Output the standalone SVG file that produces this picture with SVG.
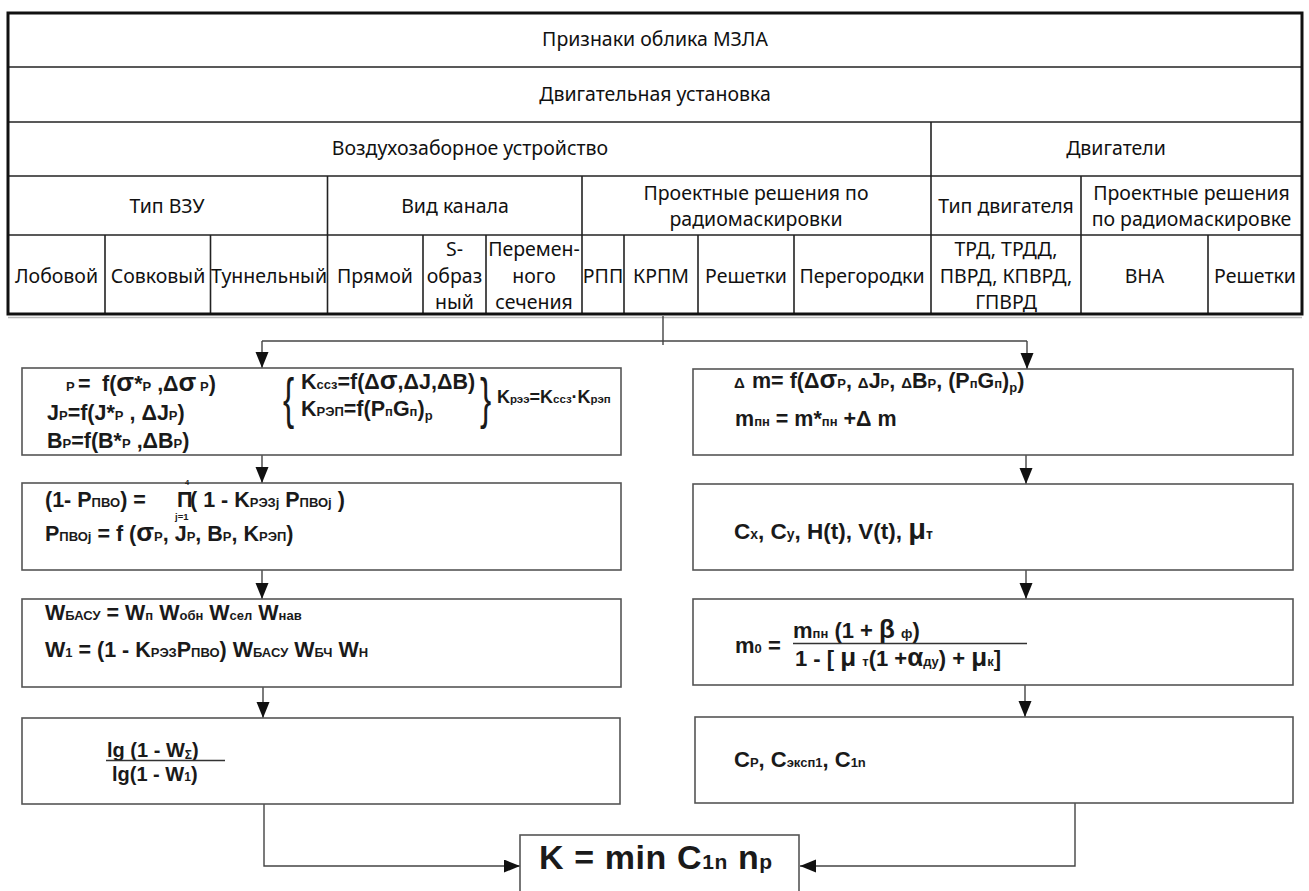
<svg xmlns="http://www.w3.org/2000/svg" width="1309" height="891" viewBox="0 0 1309 891">
<style>
.t{font-family:"Noto Sans","Open Sans","DejaVu Sans",sans-serif;font-size:19.5px;fill:#111;text-anchor:middle}
.ol{fill:none;stroke:#111;stroke-width:3}
.il{stroke:#222;stroke-width:1.6;fill:none}
.box{fill:#fff;stroke:#555;stroke-width:1.6}
.f{font-family:"Liberation Sans",Arial,sans-serif;font-weight:bold;font-size:21.5px;fill:#1a1a1a}
.s{font-size:13px}
.g{font-size:26px}
.d{font-size:15px}
.c{stroke:#444;stroke-width:1.4;fill:none}
.br{font-family:"Liberation Sans",Arial,sans-serif;font-size:56px;fill:#1a1a1a}
</style>
<defs>
<marker id="ah" markerUnits="userSpaceOnUse" markerWidth="17" markerHeight="14" refX="16" refY="6.5" orient="auto">
<path d="M0,0 L16,6.5 L0,13 Z" fill="#111"/>
</marker>
</defs>
<rect width="1309" height="891" fill="#fff"/>

<g id="table">
<line x1="8" y1="317.5" x2="1302" y2="317.5" stroke="#bbb" stroke-width="1.5"/>
<g class="il">
<line x1="8" y1="67" x2="1302" y2="67"/>
<line x1="8" y1="122" x2="1302" y2="122"/>
<line x1="8" y1="176" x2="1302" y2="176"/>
<line x1="8" y1="235" x2="1302" y2="235"/>
<line x1="931" y1="122" x2="931" y2="314"/>
<line x1="327.5" y1="176" x2="327.5" y2="314"/>
<line x1="582" y1="176" x2="582" y2="314"/>
<line x1="1081" y1="176" x2="1081" y2="314"/>
<line x1="105" y1="235" x2="105" y2="314"/>
<line x1="210.5" y1="235" x2="210.5" y2="314"/>
<line x1="423" y1="235" x2="423" y2="314"/>
<line x1="486" y1="235" x2="486" y2="314"/>
<line x1="624" y1="235" x2="624" y2="314"/>
<line x1="698" y1="235" x2="698" y2="314"/>
<line x1="794" y1="235" x2="794" y2="314"/>
<line x1="1208" y1="235" x2="1208" y2="314"/>
</g>
<rect class="ol" x="8" y="13" width="1294" height="301"/>
<text class="t" x="655" y="46">Признаки облика МЗЛА</text>
<text class="t" x="655" y="101">Двигательная установка</text>
<text class="t" x="470" y="155">Воздухозаборное устройство</text>
<text class="t" x="1116" y="155">Двигатели</text>
<text class="t" x="167" y="213">Тип ВЗУ</text>
<text class="t" x="455" y="213">Вид канала</text>
<text class="t" x="756" y="200">Проектные решения по</text>
<text class="t" x="756" y="226">радиомаскировки</text>
<text class="t" x="1006" y="213">Тип двигателя</text>
<text class="t" x="1191.5" y="200">Проектные решения</text>
<text class="t" x="1191.5" y="226">по радиомаскировке</text>
<text class="t" x="56.5" y="283">Лобовой</text>
<text class="t" x="158" y="283">Совковый</text>
<text class="t" x="269" y="283">Туннельный</text>
<text class="t" x="375" y="283">Прямой</text>
<text class="t" x="454.5" y="256">S-</text>
<text class="t" x="454.5" y="283">образ</text>
<text class="t" x="454.5" y="309">ный</text>
<text class="t" x="534" y="256">Перемен-</text>
<text class="t" x="534" y="283">ного</text>
<text class="t" x="534" y="309">сечения</text>
<text class="t" x="603" y="283">РПП</text>
<text class="t" x="661" y="283">КРПМ</text>
<text class="t" x="746" y="283">Решетки</text>
<text class="t" x="862" y="283">Перегородки</text>
<text class="t" x="1006" y="256">ТРД, ТРДД,</text>
<text class="t" x="1006" y="283">ПВРД, КПВРД,</text>
<text class="t" x="1006" y="309">ГПВРД</text>
<text class="t" x="1144.5" y="283">ВНА</text>
<text class="t" x="1255" y="283">Решетки</text>
</g>

<g id="connectors">
<line class="c" x1="663" y1="316" x2="663" y2="345"/>
<line class="c" x1="262" y1="341" x2="1027" y2="341"/>
<line class="c" x1="262" y1="341" x2="262" y2="368" marker-end="url(#ah)"/>
<line class="c" x1="1027" y1="341" x2="1027" y2="369" marker-end="url(#ah)"/>
<line class="c" x1="262" y1="455" x2="262" y2="483" marker-end="url(#ah)"/>
<line class="c" x1="262" y1="570" x2="262" y2="599" marker-end="url(#ah)"/>
<line class="c" x1="263" y1="687" x2="263" y2="718" marker-end="url(#ah)"/>
<line class="c" x1="1026" y1="455" x2="1026" y2="484" marker-end="url(#ah)"/>
<line class="c" x1="1026" y1="570" x2="1026" y2="599" marker-end="url(#ah)"/>
<line class="c" x1="1025" y1="685" x2="1025" y2="717" marker-end="url(#ah)"/>
<polyline class="c" points="264,804 264,866 520,866" marker-end="url(#ah)"/>
<polyline class="c" points="1075,803 1075,866 800,866" marker-end="url(#ah)"/>
</g>

<g id="box-l1">
<rect class="box" x="22" y="368" width="599" height="87"/>
<text class="f" y="391"><tspan x="66" class="s">P</tspan><tspan x="78">=</tspan><tspan x="102">f(</tspan><tspan class="g">σ</tspan><tspan>*</tspan><tspan class="s">P</tspan><tspan> ,Δ</tspan><tspan class="g">σ</tspan><tspan class="s"> P</tspan><tspan>)</tspan></text>
<text class="f" x="47" y="420">J<tspan class="s">P</tspan>=f(J*<tspan class="s">P</tspan> , ΔJ<tspan class="s">P</tspan>)</text>
<text class="f" x="47" y="448">B<tspan class="s">P</tspan>=f(B*<tspan class="s">P</tspan> ,ΔB<tspan class="s">P</tspan>)</text>
<text class="br" transform="translate(283,417) scale(0.6,1)">{</text>
<text class="f" x="301" y="389">K<tspan class="s">ссз</tspan>=f(Δ<tspan class="g">σ</tspan>,ΔJ,ΔB)</text>
<text class="f" x="301" y="416">K<tspan class="s">РЭП</tspan>=f(P<tspan class="s">п</tspan>G<tspan class="s">п</tspan>)<tspan class="s" dy="4">р</tspan></text>
<text class="br" transform="translate(480,417) scale(0.6,1)">}</text>
<text class="f" x="497" y="403" style="font-size:18px">K<tspan style="font-size:11.5px">рээ</tspan>=K<tspan style="font-size:11.5px">ссз</tspan>·K<tspan style="font-size:11.5px">рэп</tspan></text>
</g>

<g id="box-l2">
<rect class="box" x="22" y="483" width="599" height="87"/>
<text class="f" x="45" y="507">(1- P<tspan class="s">ПВО</tspan>) = <tspan x="177">Π</tspan><tspan x="190">( 1 - K</tspan><tspan class="s">РЭЗj</tspan> P<tspan class="s">ПВОj</tspan> )</text>
<text class="f" x="185" y="485" style="font-size:7.5px">4</text>
<text class="f" x="175" y="520" style="font-size:9.5px">j=1</text>
<text class="f" x="45" y="541">P<tspan class="s">ПВОj</tspan> = f (<tspan class="g">σ</tspan><tspan class="s">P</tspan>, J<tspan class="s">P</tspan>, B<tspan class="s">P</tspan>, K<tspan class="s">РЭП</tspan>)</text>
</g>

<g id="box-l3">
<rect class="box" x="22" y="599" width="599" height="88"/>
<text class="f" x="45" y="620">W<tspan class="s">БАСУ</tspan> = W<tspan class="s">п</tspan> W<tspan class="s">обн</tspan> W<tspan class="s">сел</tspan> W<tspan class="s">нав</tspan></text>
<text class="f" x="45" y="657">W<tspan class="s">1</tspan> = (1 - K<tspan class="s">РЭЗ</tspan>P<tspan class="s">ПВО</tspan>) W<tspan class="s">БАСУ</tspan> W<tspan class="s">БЧ</tspan> W<tspan class="s">Н</tspan></text>
</g>

<g id="box-l4">
<rect class="box" x="22" y="718" width="598" height="86"/>
<text class="f" x="107" y="757" style="font-size:20px">lg (1 - W<tspan style="font-size:12px" dy="2">Σ</tspan><tspan dy="-2">)</tspan></text>
<line x1="106" y1="760.5" x2="225" y2="760.5" stroke="#333" stroke-width="1.5"/>
<text class="f" x="112" y="781" style="font-size:20px">lg(1 - W<tspan style="font-size:12px">1</tspan>)</text>
</g>

<g id="box-r1">
<rect class="box" x="693" y="369" width="600" height="86"/>
<text class="f" y="388"><tspan x="734" class="d">Δ</tspan><tspan x="752">m= f(Δ</tspan><tspan class="g">σ</tspan><tspan class="s">P</tspan>, <tspan class="d">Δ</tspan>J<tspan class="s">P</tspan>, <tspan class="d">Δ</tspan>B<tspan class="s">P</tspan>, (P<tspan class="s">п</tspan>G<tspan class="s">п</tspan>)<tspan class="s" dy="4">р</tspan><tspan dy="-4">)</tspan></text>
<text class="f" x="735" y="426">m<tspan class="s">пн</tspan> = m*<tspan class="s">пн</tspan> +Δ m</text>
</g>

<g id="box-r2">
<rect class="box" x="693" y="484" width="600" height="86"/>
<text class="f" x="734" y="539" style="font-size:22.5px">C<tspan style="font-size:14px">x</tspan>, C<tspan style="font-size:14px">y</tspan>, H(t), V(t), <tspan style="font-size:29px">μ</tspan><tspan style="font-size:14px">т</tspan></text>
</g>

<g id="box-r3">
<rect class="box" x="693" y="599" width="600" height="86"/>
<text class="f" x="735" y="653" style="font-size:22px">m<tspan class="s">0</tspan> =</text>
<text class="f" x="793" y="638" style="font-size:22px">m<tspan class="s">пн</tspan> (1 +  <tspan class="g">β</tspan> <tspan class="s">ф</tspan>)</text>
<line x1="793" y1="643.5" x2="1027" y2="643.5" stroke="#333" stroke-width="1.5"/>
<text class="f" x="795" y="666" style="font-size:22px">1 - [ <tspan class="g">μ</tspan> <tspan class="s">т</tspan>(1 +<tspan class="g">α</tspan><tspan class="s">ду</tspan>) + <tspan class="g">μ</tspan><tspan class="s">к</tspan>]</text>
</g>

<g id="box-r4">
<rect class="box" x="695" y="717" width="598" height="86"/>
<text class="f" x="734" y="767" style="font-size:22px">C<tspan class="s">P</tspan>, C<tspan class="s">эксп1</tspan>, C<tspan class="s">1n</tspan></text>
</g>

<g id="box-k">
<rect class="box" x="520" y="835" width="279" height="70"/>
<text class="f" x="539" y="869" style="font-size:34px;letter-spacing:0.6px">K = min C<tspan style="font-size:21px">1n</tspan> n<tspan style="font-size:21px">p</tspan></text>
</g>
</svg>
